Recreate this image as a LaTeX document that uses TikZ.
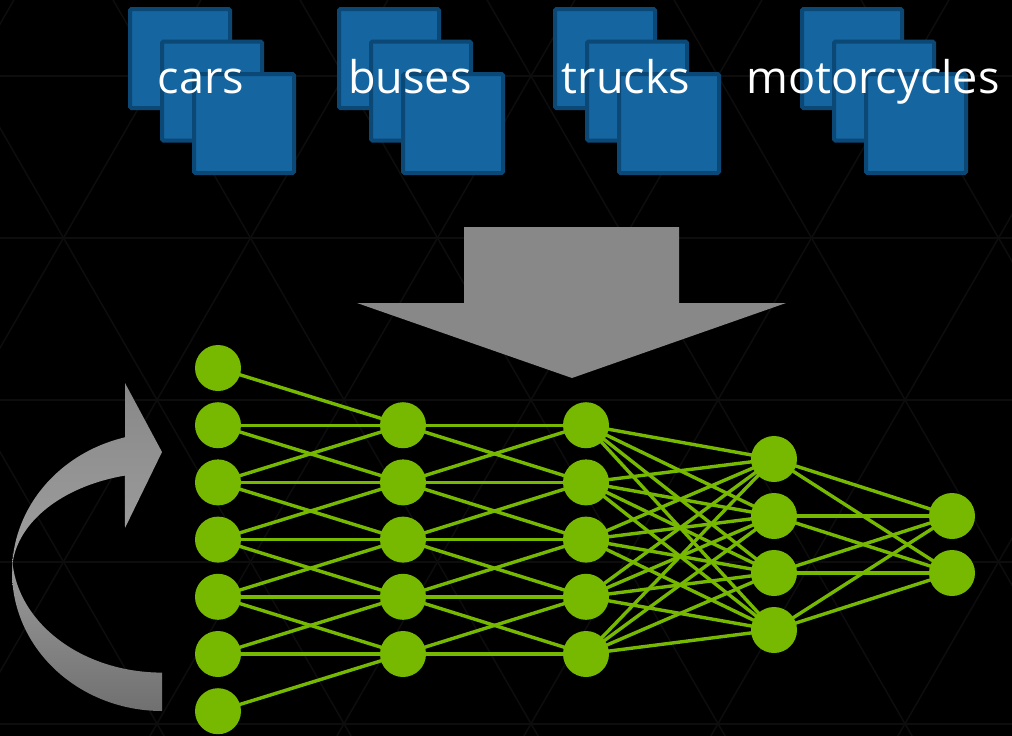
\documentclass[tikz,border=0pt]{standalone}
\usepackage{fontspec}
\setmainfont{Open Sans}
\definecolor{nvgreen}{RGB}{118,185,0}
\definecolor{cardfill}{RGB}{20,101,160}
\definecolor{cardedge}{RGB}{12,72,118}
\definecolor{gridc}{RGB}{13,13,13}
\definecolor{arrowgray}{RGB}{136,136,136}
\pgfdeclarelayer{back}
\pgfdeclarelayer{links}
\pgfsetlayers{back,links,main}
\begin{document}
\begin{tikzpicture}[x=1pt,y=-1pt,
  card/.style={draw=cardedge, fill=cardfill, line width=4pt, rounded corners=1.5pt,
    minimum width=100pt, minimum height=99pt, inner sep=0pt},
  lbl/.style={text=white, font=\fontsize{45}{50}\selectfont, anchor=base, inner sep=0pt},
  neuron/.style={circle, fill=nvgreen, minimum size=46pt, inner sep=0pt},
  link/.style={draw=nvgreen, line width=3.4pt},
  gridline/.style={draw=gridc, line width=1.5pt}]

\begin{pgfonlayer}{back}
  \fill[black] (0,0) rectangle (1012,736);
  \begin{scope}
    \clip (0,0) rectangle (1012,736);
    \foreach \k in {0,...,4} \draw[gridline] (0,76+162*\k) -- (1012,76+162*\k);
    \foreach \k in {-2,...,6} {
      \draw[gridline] (-73.9+187*\k,0) -- (-73.9+187*\k+425,736);
      \draw[gridline] (387.9+187*\k,0) -- (387.9+187*\k-425,736);
    }
  \end{scope}
\end{pgfonlayer}
\useasboundingbox (0,0) rectangle (1012,736);

% stacks of images with labels
\foreach \L/\n/\t in {128/cars/cars, 337/buses/buses, 553/trucks/trucks, 800/moto/motorcycles} {
  \node[card] (\n-a) at (\L+52,58.5) {};
  \node[card] (\n-b) at (\L+84,91) {};
  \node[card] (\n-c) at (\L+116,123.5) {};
  \node[lbl] (\n-label) at (\L+73,93) {\t};
}

% big down arrow
\fill[arrowgray] (464,227) -- (679,227) -- (679,303) -- (786,303) -- (572,378)
  -- (357,303) -- (464,303) -- cycle;

% curved feedback arrow: lower (back) face
\fill[top color={rgb,255:red,158;green,158;blue,158}, bottom color={rgb,255:red,112;green,112;blue,112}]
  plot[domain=180:270, samples=50] ({162+150*cos(\x)},{553-119.6*sin(\x)})
  -- (162,711)
  -- plot[domain=270:180, samples=50] ({162+150*cos(\x)},{572-139*sin(\x)})
  -- cycle;
% upper (front) face with head
\fill[top color={rgb,255:red,136;green,136;blue,136}, bottom color={rgb,255:red,160;green,160;blue,160}]
  (125,437)
  -- plot[domain=104.3:180, samples=50] ({162+150*cos(\x)},{572-139*sin(\x)})
  -- plot[domain=180:104.3, samples=50] ({162+150*cos(\x)},{572-99.5*sin(\x)})
  -- (125,528) -- (162,452) -- (125,383) -- cycle;

% network nodes
\foreach \i in {1,...,7} \node[neuron] (a\i) at (218,{368+57.2*(\i-1)}) {};
\foreach \j in {1,...,5} \node[neuron] (b\j) at (403,{368+57.2*\j}) {};
\foreach \j in {1,...,5} \node[neuron] (c\j) at (586,{368+57.2*\j}) {};
\foreach \j in {1,...,4} \node[neuron] (d\j) at (774,{459+57*(\j-1)}) {};
\foreach \j in {1,2} \node[neuron] (e\j) at (952,{516+57*(\j-1)}) {};

\begin{pgfonlayer}{links}
  \foreach \i in {1,...,7} \foreach \j in {1,...,5} {
    \pgfmathtruncatemacro\dd{abs(\i-\j-1)}
    \ifnum\dd<2 \draw[link] (a\i.center) -- (b\j.center); \fi
  }
  \foreach \i in {1,...,5} \foreach \j in {1,...,5} {
    \pgfmathtruncatemacro\dd{abs(\i-\j)}
    \ifnum\dd<2 \draw[link] (b\i.center) -- (c\j.center); \fi
  }
  \foreach \i in {1,...,5} \foreach \j in {1,...,4} \draw[link] (c\i.center) -- (d\j.center);
  \foreach \i in {1,...,4} \foreach \j in {1,2} \draw[link] (d\i.center) -- (e\j.center);
\end{pgfonlayer}
\end{tikzpicture}
\end{document}
